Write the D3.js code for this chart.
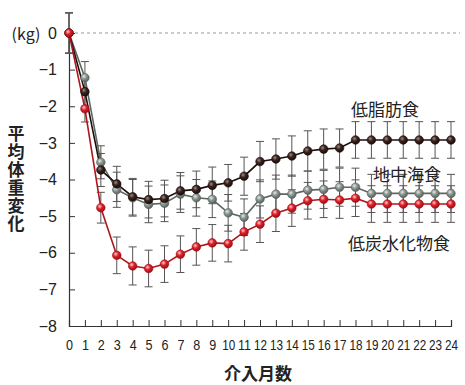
<!DOCTYPE html>
<html><head><meta charset="utf-8">
<script src="https://cdn.jsdelivr.net/npm/d3@7"></script>
<style>body{margin:0;background:#fff}svg{display:block}</style>
</head><body>
<svg id="c" width="465" height="385"></svg>
<script>
const months = d3.range(0, 25);
const xTickLabels = months.map(String);
const yTicks = [0, -1, -2, -3, -4, -5, -6, -7, -8];
const seriesNames = ["地中海食", "低脂肪食", "低炭水化物食"];
const medValues = [0, -1.22, -3.53, -4.28, -4.5, -4.68, -4.65, -4.4, -4.5, -4.54, -4.91, -5.03, -4.53, -4.4, -4.4, -4.29, -4.27, -4.21, -4.21, -4.38, -4.38, -4.38, -4.38, -4.38, -4.38];
const lowFatValues = [0, -1.6, -3.74, -4.12, -4.47, -4.55, -4.52, -4.31, -4.27, -4.16, -4.09, -3.91, -3.51, -3.44, -3.36, -3.22, -3.17, -3.14, -2.92, -2.92, -2.92, -2.92, -2.92, -2.92, -2.92];
const lowCarbValues = [0, -2.07, -4.77, -6.07, -6.36, -6.43, -6.31, -6.04, -5.84, -5.73, -5.75, -5.43, -5.22, -4.92, -4.78, -4.58, -4.54, -4.56, -4.51, -4.67, -4.67, -4.67, -4.67, -4.67, -4.67];
const medErr = [0.55, 0.44, 0.45, 0.48, 0.5, 0.5, 0.5, 0.5, 0.5, 0.5, 0.5, 0.5, 0.52, 0.52, 0.52, 0.52, 0.52, 0.52, 0.52, 0.52, 0.52, 0.52, 0.52, 0.52, 0.52];
const lowFatErr = [0.55, 0.4, 0.45, 0.48, 0.5, 0.5, 0.5, 0.5, 0.5, 0.5, 0.5, 0.52, 0.55, 0.55, 0.55, 0.55, 0.55, 0.52, 0.5, 0.5, 0.5, 0.5, 0.5, 0.5, 0.5];
const lowCarbErr = [0.55, 0.36, 0.42, 0.5, 0.52, 0.5, 0.5, 0.5, 0.5, 0.5, 0.5, 0.5, 0.5, 0.5, 0.5, 0.5, 0.5, 0.5, 0.5, 0.5, 0.5, 0.5, 0.5, 0.5, 0.5];
const xTitle = "介入月数";
const yTitle = "平均体重変化";
const unitLabel = "(kg)";

const svg = d3.select("#c");
const x = d3.scaleLinear([0, 24], [69, 451]);
const y = d3.scaleLinear([-8, 0], [326, 33]);

const series = [
  {name: seriesNames[0], vals: medValues, err: medErr, color: "#8d9891", stroke: "#5d6660", hi: "#e6ece8", dark: "#59625c", lx: 407, ly: 173},
  {name: seriesNames[1], vals: lowFatValues, err: lowFatErr, color: "#3b2420", stroke: "#1c0f0c", hi: "#a08a86", dark: "#1a0c0a", lx: 385, ly: 108},
  {name: seriesNames[2], vals: lowCarbValues, err: lowCarbErr, color: "#e0222c", stroke: "#b0141c", hi: "#ffd0d2", dark: "#a00d14", lx: 399, ly: 242}
];

const defs = svg.append("defs");
series.forEach((s, i) => {
  const g = defs.append("radialGradient").attr("id", "g" + i).attr("cx", "38%").attr("cy", "35%").attr("r", "65%");
  g.append("stop").attr("offset", "0%").attr("stop-color", s.hi);
  g.append("stop").attr("offset", "45%").attr("stop-color", s.color);
  g.append("stop").attr("offset", "100%").attr("stop-color", s.dark);
});

// zero dashed line
svg.append("line").attr("x1", x(0)).attr("x2", 460).attr("y1", y(0)).attr("y2", y(0))
  .attr("stroke", "#999").attr("stroke-width", 1).attr("stroke-dasharray", "3,3");

// axes
const yAxis = d3.axisLeft(y).tickValues(yTicks).tickSize(-6).tickPadding(12)
  .tickFormat(d => d === 0 ? "0" : "\u2212" + Math.abs(d));
const gy = svg.append("g").attr("transform", `translate(${x(0)},0)`).call(yAxis);
gy.select(".domain").attr("stroke", "#333").attr("stroke-width", 1.2);
gy.selectAll(".tick line").attr("stroke", "#333");
gy.selectAll(".tick text").attr("font-family", "'Liberation Sans', Arial, sans-serif").attr("font-size", 16).attr("fill", "#222");

const xAxis = d3.axisBottom(x).tickValues(months).tickSize(-6).tickPadding(14).tickFormat((d, i) => xTickLabels[i]);
const gx = svg.append("g").attr("transform", `translate(0,${y(-8)})`).call(xAxis);
gx.select(".domain").attr("stroke", "#333").attr("stroke-width", 1.2);
gx.selectAll(".tick line").attr("stroke", "#333");
gx.selectAll(".tick text").attr("font-family", "'Liberation Sans', Arial, sans-serif").attr("font-size", 14).attr("fill", "#222")
  .each(function(d, i) {
    if (xTickLabels[i].length > 1) d3.select(this).attr("textLength", 13).attr("lengthAdjust", "spacingAndGlyphs");
    else d3.select(this).attr("textLength", 7).attr("lengthAdjust", "spacingAndGlyphs");
  });

// error bars
series.forEach(s => {
  const g = svg.append("g");
  s.vals.forEach((v, i) => {
    const e = s.err[i];
    const cx = x(months[i]);
    g.append("line").attr("x1", cx).attr("x2", cx).attr("y1", y(v + e)).attr("y2", y(v - e)).attr("stroke", "#555").attr("stroke-width", 1);
    [v + e, v - e].forEach(w => g.append("line").attr("x1", cx - 4).attr("x2", cx + 4).attr("y1", y(w)).attr("y2", y(w)).attr("stroke", "#555").attr("stroke-width", 1));
  });
});

// lines and markers
const line = d3.line().x((d, i) => x(months[i])).y(d => y(d));
series.forEach((s, k) => {
  svg.append("path").datum(s.vals).attr("d", line).attr("fill", "none").attr("stroke", s.stroke).attr("stroke-width", 1.6);
});
series.forEach((s, k) => {
  svg.append("g").selectAll("circle").data(s.vals).join("circle")
    .attr("cx", (d, i) => x(months[i])).attr("cy", d => y(d)).attr("r", 4.3)
    .attr("fill", `url(#g${k})`).attr("stroke", s.dark).attr("stroke-width", 0.6);
});

// series labels
series.forEach(s => {
  svg.append("text").attr("x", s.lx).attr("y", s.ly).attr("text-anchor", "middle").attr("dominant-baseline", "central")
    .attr("font-family", "'Noto Sans CJK JP', sans-serif").attr("font-size", 17).attr("fill", "#222").text(s.name);
});

// titles
svg.append("text").attr("x", 258).attr("y", 372).attr("text-anchor", "middle").attr("dominant-baseline", "central")
  .attr("font-family", "'Noto Sans CJK JP', sans-serif").attr("font-size", 17).attr("font-weight", 700).attr("fill", "#222").text(xTitle);
svg.append("text").attr("x", 16).attr("y", 125)
  .attr("font-family", "'Noto Sans CJK JP', sans-serif").attr("font-size", 17).attr("font-weight", 700).attr("fill", "#222")
  .style("writing-mode", "vertical-rl").style("text-orientation", "upright").style("letter-spacing", "1px")
  .text(yTitle);
svg.append("text").attr("x", 26).attr("y", y(0)).attr("text-anchor", "middle").attr("dominant-baseline", "central")
  .attr("font-family", "'Noto Sans CJK JP', sans-serif").attr("font-size", 16).attr("fill", "#222").text(unitLabel);
</script>
</body></html>
